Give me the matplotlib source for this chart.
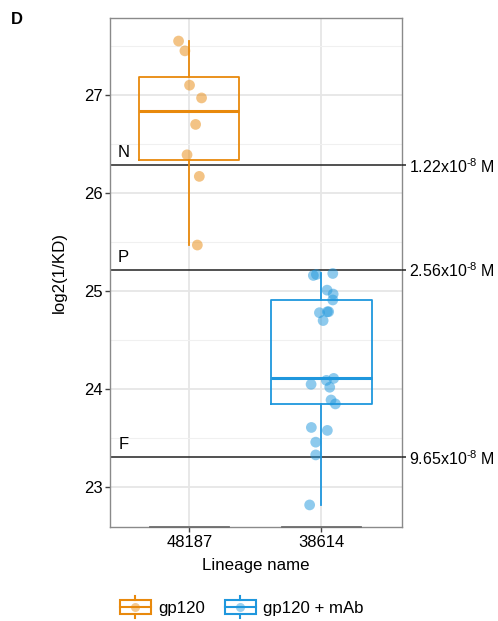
import numpy as np
import matplotlib
matplotlib.use('Agg')
import matplotlib.pyplot as plt
from matplotlib.patches import Rectangle
from matplotlib.lines import Line2D
from matplotlib.legend_handler import HandlerBase

plt.rcParams['font.family'] = ['Liberation Sans', 'DejaVu Sans']
plt.rcParams['mathtext.fontset'] = 'custom'
plt.rcParams['mathtext.rm'] = 'Liberation Sans'
plt.rcParams['mathtext.it'] = 'Liberation Sans'

# data
lineages = ['48187', '38614']
groups = ['gp120', 'gp120 + mAb']
colors = ['#E8890C', '#1F97DD']

gp120_vals = [27.55, 27.45, 27.10, 26.97, 26.70, 26.39, 26.17, 25.47]
gp120_jit = [-0.081, -0.033, 0.002, 0.093, 0.048, -0.017, 0.076, 0.061]

mab_vals = [25.16, 25.17, 25.18, 25.01, 24.97, 24.91, 24.78, 24.79, 24.79, 24.70,
            24.11, 24.09, 24.05, 24.02, 23.89, 23.85, 23.61, 23.58, 23.46, 23.33, 22.82]
mab_jit = [-0.061, -0.038, 0.086, 0.043, 0.089, 0.086, -0.015, 0.055, 0.045, 0.013,
           0.093, 0.038, -0.078, 0.063, 0.073, 0.106, -0.076, 0.045, -0.043, -0.043, -0.089]

kd_vals = [1.22e-8, 2.56e-8, 9.65e-8]
kd_names = ['N', 'P', 'F']
kd_text = ['1.22x10$^{\u20108}$ M', '2.56x10$^{\u20108}$ M', '9.65x10$^{\u20108}$ M']

YLIM = (22.595, 27.785)


class BoxHandler(HandlerBase):
    def create_artists(self, legend, orig_handle, xdescent, ydescent,
                       width, height, fontsize, trans):
        c = orig_handle.get_color()
        x0, y0 = -xdescent, -ydescent
        xc = x0 + width / 2
        ym = y0 + height / 2
        rect = Rectangle((x0, y0 + 0.18 * height), width, 0.64 * height,
                         fill=False, ec=c, lw=1.5, transform=trans)
        med = Line2D([x0, x0 + width], [ym, ym], color=c, lw=1.5, transform=trans)
        w1 = Line2D([xc, xc], [y0 - 0.05 * height, y0 + 0.18 * height], color=c, lw=1.5, transform=trans)
        w2 = Line2D([xc, xc], [y0 + 0.82 * height, y0 + 1.05 * height], color=c, lw=1.5, transform=trans)
        pt = Line2D([xc], [ym], marker='o', ms=6.5, color=c, alpha=0.45, mec='none', transform=trans)
        return [rect, med, w1, w2, pt]


fig = plt.figure(figsize=(4.98, 6.21), dpi=100)
ax = fig.add_axes([110 / 498, 1 - 527 / 621, 292 / 498, 509 / 621])

# grid
ax.set_yticks([23, 24, 25, 26, 27])
ax.set_yticks(np.arange(22.5, 28.0, 1.0), minor=True)
ax.grid(True, which='major', color='#E6E6E6', lw=1.3, zorder=0)
ax.grid(True, which='minor', axis='y', color='#F0F0F0', lw=0.8, zorder=0)
ax.set_axisbelow(True)
ax.tick_params(which='minor', length=0)
ax.tick_params(which='major', length=3.5, width=1, color='#444444', labelsize=12, pad=2)

for s in ax.spines.values():
    s.set_color('#8A8A8A')
    s.set_linewidth(1.0)

all_vals = [gp120_vals, mab_vals]
all_jit = [gp120_jit, mab_jit]
for i in range(2):
    c = colors[i]
    ax.boxplot(all_vals[i], positions=[i + 1], widths=0.76, whis=1.5,
               showcaps=False, showfliers=False, patch_artist=False,
               boxprops=dict(color=c, lw=1.3),
               whiskerprops=dict(color=c, lw=1.3),
               medianprops=dict(color=c, lw=2.2),
               manage_ticks=False, zorder=3)
    xs = np.array(all_jit[i]) + i + 1
    ax.scatter(xs, all_vals[i], s=60, color=c, alpha=0.5, edgecolors='none', zorder=4)
    # darker base segment along bottom border
    ax.plot([i + 1 - 0.3, i + 1 + 0.3], [YLIM[0], YLIM[0]], color='#6E6E6E', lw=1.3,
            clip_on=False, zorder=5)

# affinity reference lines
levels = [np.log2(1 / k) for k in kd_vals]
for lv, nm in zip(levels, kd_names):
    ax.axhline(lv, color='#222222', lw=1.1, zorder=2)
    ax.text(0.5, lv + 0.05, nm, ha='center', va='bottom', fontsize=12)

ax.set_xticks([1, 2])
ax.set_xticklabels(lineages)
ax.set_xlim(0.4, 2.61)
ax.set_ylim(*YLIM)

ax2 = ax.twinx()
ax2.set_ylim(*YLIM)
ax2.set_yticks(levels)
ax2.set_yticklabels(kd_text)
ax2.tick_params(length=3, width=1.1, color='#222222', labelsize=11.5, pad=2)
for s in ax2.spines.values():
    s.set_visible(False)

ax.set_ylabel('log2(1/KD)', fontsize=12.2)
ax.yaxis.set_label_coords(-0.147, 0.5)
ax.set_xlabel('Lineage name', fontsize=12.2)
ax.xaxis.set_label_coords(0.5, -0.061)

fig.text(11 / 498, 1 - 24 / 621, 'D', fontsize=12, fontweight='bold', va='baseline')

handles = [Line2D([], [], color=c) for c in colors]
fig.legend(handles, groups, handler_map={Line2D: BoxHandler()},
           loc='center', bbox_to_anchor=(0.485, 1 - 607 / 621), ncol=2,
           frameon=False, fontsize=12.1, handlelength=1.85, handleheight=1.5,
           handletextpad=0.4, columnspacing=1.2)

fig.savefig('out.png', dpi=100)
